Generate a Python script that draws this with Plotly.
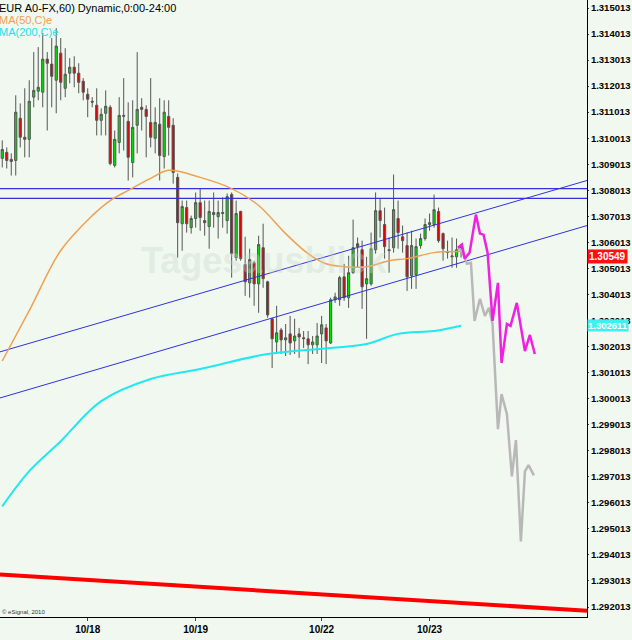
import plotly.graph_objects as go

# hourly EUR/USD candles, index 0 = first visible bar
opens = [1.30924, 1.30947, 1.30920, 1.30916, 1.31078, 1.31005, 1.30997, 1.31159, 1.31182, 1.31178,
         1.31305, 1.31286, 1.31224, 1.31328, 1.31193, 1.31251, 1.31274, 1.31251, 1.31220, 1.31170,
         1.31143, 1.31128, 1.31070, 1.31097, 1.31120, 1.30897, 1.30985, 1.31089, 1.31066, 1.30908,
         1.31051, 1.31120, 1.31112, 1.31062, 1.31001, 1.31055, 1.30931, 1.31085, 1.31051, 1.30851,
         1.30673, 1.30735, 1.30658, 1.30693, 1.30754, 1.30685, 1.30662, 1.30708, 1.30700, 1.30716,
         1.30685, 1.30785, 1.30543, 1.30720, 1.30516, 1.30446, 1.30523, 1.30442, 1.30581, 1.30450,
         1.30308, 1.30219, 1.30265, 1.30227, 1.30250, 1.30223, 1.30250, 1.30235, 1.30231, 1.30208,
         1.30208, 1.30250, 1.30273, 1.30215, 1.30381, 1.30381, 1.30469, 1.30389, 1.30485, 1.30596,
         1.30573, 1.30442, 1.30442, 1.30573, 1.30723, 1.30670, 1.30573, 1.30581, 1.30693, 1.30623,
         1.30589, 1.30473, 1.30477, 1.30589, 1.30616, 1.30670, 1.30670, 1.30720, 1.30635, 1.30566,
         1.30546, 1.30546, 1.30585]
highs = [1.30993, 1.30966, 1.30943, 1.31166, 1.31135, 1.31193, 1.31224, 1.31332, 1.31351, 1.31405,
         1.31332, 1.31386, 1.31424, 1.31386, 1.31347, 1.31309, 1.31316, 1.31289, 1.31232, 1.31193,
         1.31159, 1.31193, 1.31116, 1.31185, 1.31128, 1.31031, 1.31159, 1.31232, 1.31139, 1.31147,
         1.31332, 1.31155, 1.31128, 1.31232, 1.31120, 1.31155, 1.31147, 1.31147, 1.31078, 1.30866,
         1.30762, 1.30762, 1.30704, 1.30793, 1.30808, 1.30762, 1.30762, 1.30793, 1.30762, 1.30774,
         1.30789, 1.30793, 1.30762, 1.30723, 1.30623, 1.30577, 1.30531, 1.30627, 1.30673, 1.30454,
         1.30312, 1.30358, 1.30273, 1.30288, 1.30319, 1.30308, 1.30273, 1.30261, 1.30261, 1.30242,
         1.30292, 1.30319, 1.30288, 1.30389, 1.30408, 1.30473, 1.30519, 1.30550, 1.30689, 1.30620,
         1.30608, 1.30546, 1.30639, 1.30793, 1.30770, 1.30735, 1.30620, 1.30862, 1.30762, 1.30666,
         1.30639, 1.30646, 1.30616, 1.30635, 1.30693, 1.30712, 1.30785, 1.30735, 1.30639, 1.30608,
         1.30620, 1.30616, 1.30596]
lows = [1.30889, 1.30885, 1.30858, 1.30858, 1.30966, 1.30928, 1.30928, 1.31120, 1.31147, 1.31120,
        1.31031, 1.31120, 1.31097, 1.31147, 1.31159, 1.31212, 1.31197, 1.31174, 1.31147, 1.31082,
        1.31120, 1.31012, 1.31012, 1.31012, 1.30897, 1.30889, 1.30943, 1.30954, 1.30839, 1.30851,
        1.30943, 1.31031, 1.30928, 1.30966, 1.30943, 1.30839, 1.30885, 1.30935, 1.30827, 1.30543,
        1.30569, 1.30639, 1.30635, 1.30658, 1.30646, 1.30627, 1.30577, 1.30658, 1.30616, 1.30658,
        1.30635, 1.30466, 1.30531, 1.30531, 1.30396, 1.30389, 1.30358, 1.30331, 1.30427, 1.30312,
        1.30119, 1.30173, 1.30173, 1.30165, 1.30169, 1.30173, 1.30158, 1.30196, 1.30134, 1.30173,
        1.30173, 1.30138, 1.30134, 1.30211, 1.30369, 1.30358, 1.30377, 1.30350, 1.30481, 1.30504,
        1.30346, 1.30231, 1.30435, 1.30558, 1.30620, 1.30539, 1.30485, 1.30562, 1.30577, 1.30562,
        1.30415, 1.30423, 1.30423, 1.30577, 1.30608, 1.30646, 1.30658, 1.30600, 1.30531, 1.30539,
        1.30504, 1.30504, 1.30543]
closes = [1.30958, 1.30916, 1.30912, 1.31101, 1.31005, 1.30997, 1.31143, 1.31185, 1.31197, 1.31305,
          1.31289, 1.31239, 1.31355, 1.31216, 1.31247, 1.31274, 1.31251, 1.31216, 1.31178, 1.31151,
          1.31140, 1.31070, 1.31093, 1.31124, 1.30904, 1.30997, 1.31089, 1.31086, 1.30928, 1.31043,
          1.31112, 1.31112, 1.31085, 1.31005, 1.31062, 1.30935, 1.31101, 1.31043, 1.30870, 1.30677,
          1.30739, 1.30673, 1.30693, 1.30754, 1.30697, 1.30677, 1.30720, 1.30716, 1.30716, 1.30713,
          1.30777, 1.30558, 1.30712, 1.30539, 1.30450, 1.30535, 1.30442, 1.30593, 1.30462, 1.30323,
          1.30231, 1.30254, 1.30227, 1.30235, 1.30215, 1.30242, 1.30238, 1.30232, 1.30208, 1.30219,
          1.30242, 1.30285, 1.30223, 1.30381, 1.30392, 1.30466, 1.30389, 1.30485, 1.30581, 1.30585,
          1.30431, 1.30462, 1.30577, 1.30723, 1.30685, 1.30585, 1.30570, 1.30727, 1.30639, 1.30608,
          1.30469, 1.30589, 1.30585, 1.30616, 1.30670, 1.30677, 1.30727, 1.30608, 1.30577, 1.30563,
          1.30549, 1.30573, 1.30577]

ma50_x = [0, 6, 13, 20, 24, 28, 33, 37, 44, 51, 57, 63, 68, 72, 76, 81, 86, 90, 96, 102]
ma50 = [1.30146, 1.30339, 1.30570, 1.30704, 1.30762, 1.30801, 1.30847, 1.30878, 1.30851, 1.30808,
        1.30743, 1.30635, 1.30558, 1.30519, 1.30508, 1.30508, 1.30531, 1.30539, 1.30562, 1.30566]
ma200_x = [0, 6, 13, 22, 33, 44, 59, 73, 81, 88, 96, 102]
ma200 = [1.29588, 1.29723, 1.29838, 1.29992, 1.30077, 1.30115, 1.30173, 1.30196, 1.30211, 1.30250,
         1.30261, 1.30281]

fc1_x = [101.3, 102.2, 102.8, 103.9, 105.3, 106.2, 107.0, 107.9, 109.0, 110.2, 111.0, 112.2, 113.0,
         114.4, 116.2, 117.3, 118.4]
fc1 = [1.30581, 1.30593, 1.30539, 1.30562, 1.30708, 1.30635, 1.30631, 1.30562, 1.30300, 1.30446,
       1.30138, 1.30288, 1.30281, 1.30369, 1.30184, 1.30246, 1.30173]
fc2_x = [101.3, 102.2, 103.3, 104.2, 105.0, 106.2, 107.3, 108.2, 109.0, 110.2, 111.0, 112.2, 113.3,
         114.2, 115.3, 116.2, 117.0, 118.2]
fc2 = [1.30581, 1.30569, 1.30519, 1.30523, 1.30300, 1.30385, 1.30319, 1.30350, 1.30288, 1.29884,
       1.30019, 1.29942, 1.29703, 1.29842, 1.29453, 1.29722, 1.29746, 1.29707]

hlines = [1.30808, 1.30770]
chan_x = [-0.5, 130]
chan_upper = [1.30181, 1.30839]
chan_lower = [1.30004, 1.30666]
red_line = [1.29326, 1.29187]

day_ticks = [19, 43, 71, 95]
day_labels = ["10/18", "10/19", "10/22", "10/23"]
price_ticks = [round(1.292013 + 0.001 * k, 6) for k in range(24)]

X0, X1 = -0.5, 130
Y0, Y1 = 1.29163, 1.31532

fig = go.Figure()
fig.add_trace(go.Candlestick(
    x=list(range(len(opens))), open=opens, high=highs, low=lows, close=closes,
    increasing=dict(fillcolor="#00e000", line=dict(color="#555555", width=1)),
    decreasing=dict(fillcolor="#e00000", line=dict(color="#555555", width=1)),
    whiskerwidth=0, showlegend=False, hoverinfo="skip"))

for h in hlines:
    fig.add_trace(go.Scatter(x=[X0, X1], y=[h, h], mode="lines",
                             line=dict(color="#3030e0", width=1.2), showlegend=False))
fig.add_trace(go.Scatter(x=chan_x, y=chan_upper, mode="lines",
                         line=dict(color="#3030e0", width=1), showlegend=False))
fig.add_trace(go.Scatter(x=chan_x, y=chan_lower, mode="lines",
                         line=dict(color="#3030e0", width=1), showlegend=False))
fig.add_trace(go.Scatter(x=[X0, X1], y=red_line, mode="lines",
                         line=dict(color="#ff0000", width=4), showlegend=False))
fig.add_trace(go.Scatter(x=ma50_x, y=ma50, mode="lines", line_shape="spline",
                         line=dict(color="#f0a050", width=1.5), showlegend=False))
fig.add_trace(go.Scatter(x=ma200_x, y=ma200, mode="lines", line_shape="spline",
                         line=dict(color="#20e8f0", width=2), showlegend=False))
fig.add_trace(go.Scatter(x=fc2_x, y=fc2, mode="lines",
                         line=dict(color="#b8b8b8", width=2.5), showlegend=False))
fig.add_trace(go.Scatter(x=fc1_x, y=fc1, mode="lines",
                         line=dict(color="#f020e0", width=2.5), showlegend=False))

fig.update_layout(
    width=632, height=640,
    margin=dict(l=0, r=45, t=0, b=23),
    paper_bgcolor="#f0f8f0", plot_bgcolor="#f0f8f0",
    font=dict(family="Liberation Sans, Arial", size=11, color="black"),
    xaxis=dict(range=[X0, X1], rangeslider=dict(visible=False), showgrid=False, zeroline=False,
               tickvals=day_ticks, ticktext=[f"<b>{t}</b>" for t in day_labels],
               ticks="outside", ticklen=3, showline=True, linecolor="black", linewidth=1,
               tickfont=dict(size=10), automargin=False),
    yaxis=dict(range=[Y0, Y1], side="right", showgrid=False, zeroline=False,
               tickvals=price_ticks, ticktext=[f"<b>{t:.6f}</b>" for t in price_ticks],
               ticks="outside", ticklen=1, showline=True, linecolor="black", linewidth=1,
               tickfont=dict(size=9.5), automargin=False),
)

anns = [
    dict(text="EUR A0-FX,60) Dynamic,0:00-24:00", color="black", dy=0),
    dict(text="MA(50,C)e", color="#f0a050", dy=12),
    dict(text="MA(200,C)e", color="#20e0f0", dy=24),
]
for a in anns:
    fig.add_annotation(x=0, y=1, xref="paper", yref="paper", xanchor="left",
                       yanchor="top", yshift=-a["dy"], xshift=-3, showarrow=False,
                       text=a["text"], font=dict(size=11, color=a["color"]))

fig.add_annotation(x=0.45, y=1.3053, xref="paper", yref="y", text="<b>Tagesausblick</b>",
                   showarrow=False, font=dict(size=36, color="rgba(200,215,200,0.35)"))
fig.add_annotation(x=0, y=0, xref="paper", yref="paper", xanchor="left", yanchor="bottom",
                   text="© eSignal, 2010", showarrow=False, font=dict(size=6, color="#333"))
fig.add_annotation(x=1, y=closes[-3], xref="paper", yref="y", xanchor="left", text="<b>1.30549</b>",
                   showarrow=False, bgcolor="#ff1010", font=dict(size=10, color="white"),
                   borderpad=1)
fig.add_annotation(x=1, y=ma200[-1], xref="paper", yref="y", xanchor="left", text="<b>1.302611</b>",
                   showarrow=False, bgcolor="#40f0f0", font=dict(size=9.5, color="white"),
                   borderpad=0)

fig.write_html("out.html", config={"displayModeBar": False},
               post_script="document.body.style.margin='0';")
